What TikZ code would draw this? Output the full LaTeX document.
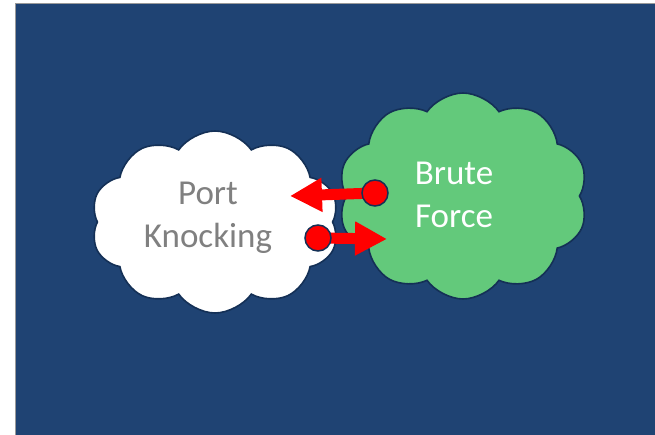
\documentclass[tikz,border=0pt]{standalone}
\usepackage{fontspec}
\setmainfont{Carlito}
\usepackage{tikz}
\usetikzlibrary{shapes.symbols}
\usetikzlibrary{arrows.meta}
\usepackage{xcolor}

\definecolor{slideblue}{RGB}{31,67,115}
\definecolor{cloudline}{RGB}{20,48,86}
\definecolor{forcegreen}{RGB}{99,201,123}
\definecolor{knockgray}{RGB}{128,128,128}

\begin{document}
\begin{tikzpicture}[x=1pt, y=-1pt,
  puff/.style={cloud, cloud puffs=10, cloud puff arc=110, cloud ignores aspect, draw=cloudline, line width=1.6pt, inner sep=0pt},
  cloudtext/.style={align=center, font=\fontsize{35}{43}\selectfont},
  hitarrow/.style={red, line width=11pt, -{Triangle[length=32pt, width=32pt]}},
  knob/.style={circle, fill=red, draw=cloudline, line width=1.5pt, minimum size=26pt, inner sep=0pt}]

\useasboundingbox (0,0) rectangle (655,435);
\clip (0,0) rectangle (655,435);

%%%%%% the slide %%%
\fill[slideblue] (15,3) rectangle (665,445);
\draw[gray!80, line width=1pt] (15.5,445)--(15.5,3.5)--(665,3.5);

%%%%%%%%%% Clouds %%%%%%%%
{
\node[puff, fill=white, minimum width=248pt, minimum height=182pt] (knockcloud) at (215,222) {};
\node[puff, fill=forcegreen, minimum width=250pt, minimum height=206pt] (forcecloud) at (463,196) {};

\node[cloudtext, text=knockgray] (knocklabel) at (208,218) {Port\\Knocking};
\node[cloudtext, text=white] (forcelabel) at (454,195) {Brute\\Force};
}

%%%%%%%%%%%%     arrows   %%%%%%%%%%%%
{
\coordinate (forcetail) at (375,193);
\coordinate (forcetip) at (290,196);
\coordinate (knocktail) at (318,238);
\coordinate (knocktip) at (387,239);

\draw[hitarrow] (forcetail)--(forcetip);
\draw[hitarrow] (knocktail)--(knocktip);

\node[knob] (forceknob) at (forcetail) {};
\node[knob] (knockknob) at (knocktail) {};
}

\end{tikzpicture}
\end{document}
